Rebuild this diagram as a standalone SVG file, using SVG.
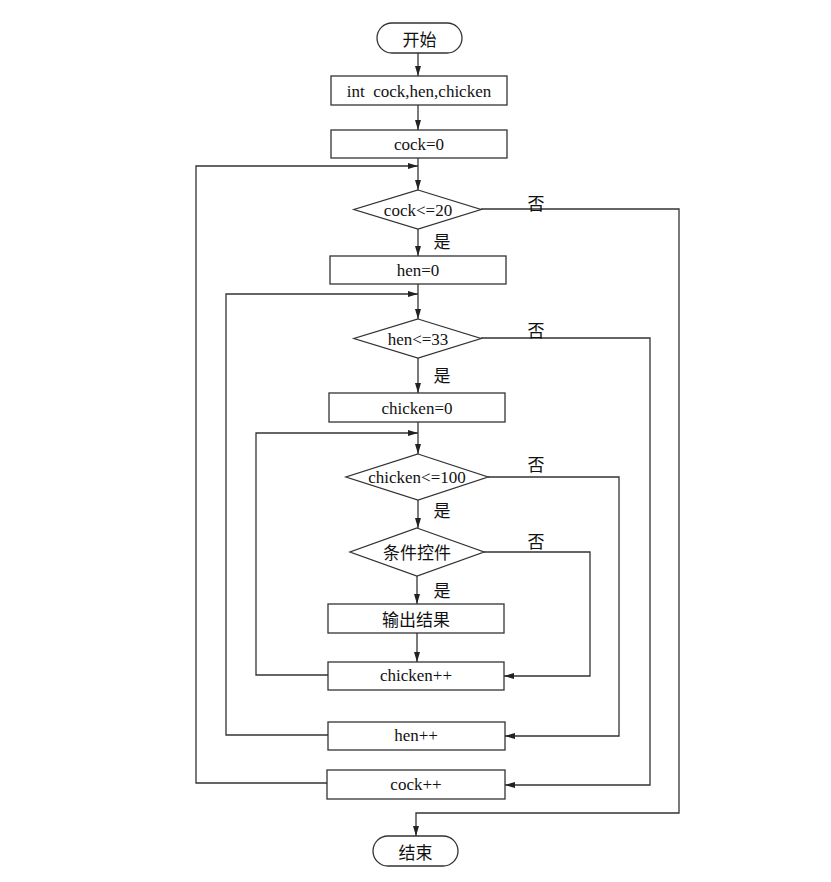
<svg xmlns="http://www.w3.org/2000/svg" width="831" height="882" viewBox="0 0 831 882">
<defs>
<marker id="arr" viewBox="0 0 10 6" refX="10" refY="3" markerWidth="10" markerHeight="6" markerUnits="userSpaceOnUse" orient="auto">
<path d="M0,0 L10,3 L0,6 z" fill="#222"/>
</marker>
<style>
.shape{fill:#fff;stroke:#333;stroke-width:1.3}
.ln{fill:none;stroke:#333;stroke-width:1.3}
.t{font-family:"Liberation Serif","Times New Roman",serif;font-size:17px;fill:#111;text-anchor:middle;dominant-baseline:central}
.c{font-family:"Noto Sans CJK SC","Noto Sans",sans-serif;font-size:17px;fill:#111;text-anchor:middle;dominant-baseline:central}
</style>
</defs>
<rect width="831" height="882" fill="#fff"/>
<g id="connectors">
<path class="ln" d="M418,53 V76" marker-end="url(#arr)"/>
<path class="ln" d="M418,105 V130" marker-end="url(#arr)"/>
<path class="ln" d="M418,158 V190" marker-end="url(#arr)"/>
<path class="ln" d="M330,783 H196 V166 H418" marker-end="url(#arr)"/>
<path class="ln" d="M481,209 H679 V813 H416 V836" marker-end="url(#arr)"/>
<path class="ln" d="M418,229 V256" marker-end="url(#arr)"/>
<path class="ln" d="M418,284 V319" marker-end="url(#arr)"/>
<path class="ln" d="M329,735 H226 V294 H418" marker-end="url(#arr)"/>
<path class="ln" d="M481,338 H650 V785 H505" marker-end="url(#arr)"/>
<path class="ln" d="M418,358 V393" marker-end="url(#arr)"/>
<path class="ln" d="M418,422 V454" marker-end="url(#arr)"/>
<path class="ln" d="M328,675 H256 V433 H418" marker-end="url(#arr)"/>
<path class="ln" d="M488,477 H619 V736 H505" marker-end="url(#arr)"/>
<path class="ln" d="M418,500 V528" marker-end="url(#arr)"/>
<path class="ln" d="M484,552 H590 V676 H504" marker-end="url(#arr)"/>
<path class="ln" d="M417,576 V604" marker-end="url(#arr)"/>
<path class="ln" d="M417,633 V662" marker-end="url(#arr)"/>
<text class="c" x="536" y="202">否</text>
<text class="c" x="442" y="240">是</text>
<text class="c" x="536" y="329">否</text>
<text class="c" x="442" y="374">是</text>
<text class="c" x="536" y="463">否</text>
<text class="c" x="442" y="509">是</text>
<text class="c" x="536" y="540">否</text>
<text class="c" x="442" y="589">是</text>
</g>
<g id="start">
<rect class="shape" x="377" y="23" width="85" height="30" rx="15"/>
<text class="c" x="419.5" y="38">开始</text>
</g>
<g id="declare">
<rect class="shape" x="331" y="76" width="176" height="29"/>
<text class="t" x="419" y="91" xml:space="preserve">int  cock,hen,chicken</text>
</g>
<g id="cock0">
<rect class="shape" x="331" y="130" width="176" height="28"/>
<text class="t" x="419" y="144">cock=0</text>
</g>
<g id="cond-cock">
<polygon class="shape" points="418,190 481,209.5 418,229 354,209.5"/>
<text class="t" x="418" y="210">cock&lt;=20</text>
</g>
<g id="hen0">
<rect class="shape" x="330" y="256" width="176" height="28"/>
<text class="t" x="418" y="270">hen=0</text>
</g>
<g id="cond-hen">
<polygon class="shape" points="418,319 481,338.5 418,358 354,338.5"/>
<text class="t" x="418" y="339">hen&lt;=33</text>
</g>
<g id="chicken0">
<rect class="shape" x="329" y="393" width="176" height="29"/>
<text class="t" x="417" y="408">chicken=0</text>
</g>
<g id="cond-chicken">
<polygon class="shape" points="418,454 488,477 418,500 346,477"/>
<text class="t" x="417" y="477">chicken&lt;=100</text>
</g>
<g id="cond-check">
<polygon class="shape" points="417,528 484,552 417,576 350,552"/>
<text class="c" x="417" y="551">条件控件</text>
</g>
<g id="output">
<rect class="shape" x="328" y="604" width="176" height="29"/>
<text class="c" x="416" y="618">输出结果</text>
</g>
<g id="chickenInc">
<rect class="shape" x="328" y="662" width="176" height="28"/>
<text class="t" x="416" y="675">chicken++</text>
</g>
<g id="henInc">
<rect class="shape" x="328" y="722" width="177" height="28"/>
<text class="t" x="416" y="735">hen++</text>
</g>
<g id="cockInc">
<rect class="shape" x="327" y="770" width="178" height="29"/>
<text class="t" x="416" y="784">cock++</text>
</g>
<g id="end">
<rect class="shape" x="373" y="836" width="85" height="30" rx="15"/>
<text class="c" x="415.5" y="851">结束</text>
</g>
</svg>
